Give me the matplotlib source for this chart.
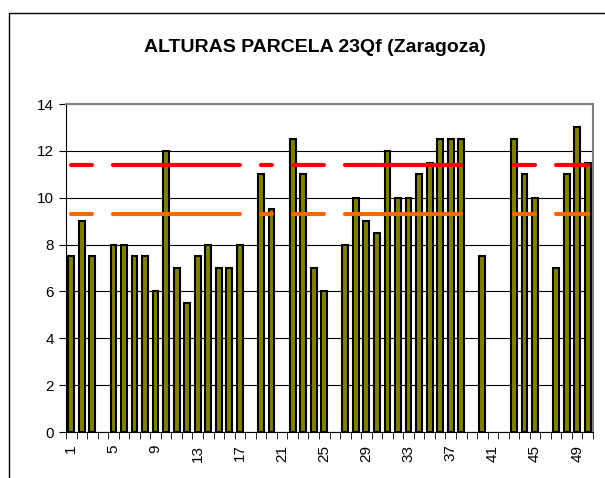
import numpy as np
import matplotlib.pyplot as plt
from matplotlib.patches import Rectangle

plt.rcParams['font.family'] = ['Liberation Sans', 'DejaVu Sans']

parcelas = list(range(1, 51))
alturas = [7.5, 9, 7.5, 0, 8, 8, 7.5, 7.5, 6, 12,
           7, 5.5, 7.5, 8, 7, 7, 8, 0, 11, 9.5,
           0, 12.5, 11, 7, 6, 0, 8, 10, 9, 8.5,
           12, 10, 10, 11, 11.5, 12.5, 12.5, 12.5, 0, 7.5,
           0, 0, 12.5, 11, 10, 0, 7, 11, 13, 11.5]
linea_sup = 11.4
linea_inf = 9.3
xticks = list(range(1, 51, 4))
titulo = "ALTURAS PARCELA 23Qf (Zaragoza)"

x = np.array(parcelas)
h = np.array(alturas, dtype=float)
hay = h > 0
mask = np.where(hay, 1.0, np.nan)

fig = plt.figure(figsize=(6.05, 4.78), dpi=100)
ax = fig.add_axes([66/605, 46/478, 527/605, 328/478])

ax.set_axisbelow(True)
ax.yaxis.grid(True, color='black', lw=0.8)
ax.bar(x[hay], h[hay], width=0.55, color='#808000', edgecolor='black', lw=1.5, zorder=2)
ax.plot(x, linea_sup * mask, color='#ff0000', lw=3,
        solid_capstyle='round', zorder=3)
ax.plot(x, linea_inf * mask, color='#ff6600', lw=3,
        solid_capstyle='round', zorder=3)

ax.set_xlim(0.5, 50.5)
ax.set_ylim(0, 14)
ax.set_yticks(range(0, 15, 2))
ax.set_xticks(xticks)
ax.set_xticklabels([str(t) for t in xticks], rotation=90)
ax.set_xticks(np.arange(0.5, 51, 1), minor=True)
ax.tick_params(axis='x', which='major', length=0, pad=9, labelsize=11)
ax.tick_params(axis='x', which='minor', length=5, color='black')
ax.tick_params(axis='y', length=5, labelsize=11)

ax.spines['top'].set_color('#808080')
ax.spines['right'].set_color('#808080')
ax.spines['top'].set_linewidth(1.5)
ax.spines['right'].set_linewidth(1.5)

fig.text(315/605, 1 - 47/478, titulo, ha='center', va='center',
         fontsize=14, fontweight='bold')

fig.patches.append(Rectangle((8.5/605, -0.1), 1.2, 1.1 - 13.5/478,
                             transform=fig.transFigure, fill=False,
                             edgecolor='black', lw=1))

fig.savefig('out.png', dpi=100)
